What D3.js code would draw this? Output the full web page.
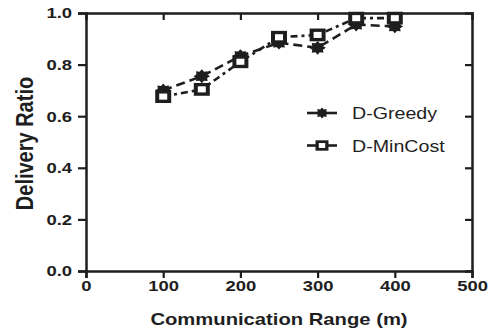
<!DOCTYPE html>
<html><head><meta charset="utf-8">
<script src="https://cdn.jsdelivr.net/npm/d3@7"></script>
<style>body{margin:0;background:#fff}</style>
</head><body>
<svg id="c" width="493" height="336"></svg>
<script>
const ranges = [100,150,200,250,300,350,400];
const greedy = [0.70,0.755,0.833,0.885,0.865,0.955,0.948];
const minCost = [0.676,0.704,0.811,0.906,0.915,0.98,0.98];
const xTicks = [0,100,200,300,400,500];
const yTicks = [0.0,0.2,0.4,0.6,0.8,1.0];
const seriesNames = ["D-Greedy","D-MinCost"];

const SX = 1.19; // horizontal stretch of the reference glyphs
const svg = d3.select("#c");
const m = {l:86, r:472, t:13, b:271};
const x = d3.scaleLinear().domain([0,500]).range([m.l,m.r]);
const y = d3.scaleLinear().domain([0,1]).range([m.b,m.t]);
const font = "'Liberation Sans', Arial, sans-serif";
const ink = "#1e1e1e";

function styleAxis(g){
  g.select(".domain").attr("stroke",ink).attr("stroke-width",2.5);
  g.selectAll(".tick line").attr("stroke",ink).attr("stroke-width",2.2);
  g.selectAll(".tick text").attr("font-family",font).attr("font-weight","bold").attr("font-size",15.5).attr("fill",ink)
    .each(function(){
      const t = d3.select(this);
      const xv = +t.attr("x") || 0;
      t.attr("x",0).attr("transform",`translate(${xv},0) scale(${SX},1)`);
    });
}
// bottom
svg.append("g").attr("transform",`translate(0,${m.b})`)
  .call(d3.axisBottom(x).tickValues(xTicks).tickFormat(d3.format("d")).tickSizeOuter(0).tickSize(7).tickPadding(2))
  .call(styleAxis);
// left
svg.append("g").attr("transform",`translate(${m.l},0)`)
  .call(d3.axisLeft(y).tickValues(yTicks).tickFormat(d3.format(".1f")).tickSizeOuter(0).tickSize(8).tickPadding(6))
  .call(styleAxis);
// top (inner ticks)
svg.append("g").attr("transform",`translate(0,${m.t})`)
  .call(d3.axisBottom(x).tickValues(xTicks.slice(1,-1)).tickFormat("").tickSizeOuter(0).tickSize(7))
  .call(styleAxis);
// right (inner ticks)
svg.append("g").attr("transform",`translate(${m.r},0)`)
  .call(d3.axisLeft(y).tickValues(yTicks.slice(1,-1)).tickFormat("").tickSizeOuter(0).tickSize(7))
  .call(styleAxis);

// titles
svg.append("text").attr("transform",`translate(${(m.l+m.r)/2},325) scale(${SX},1)`).attr("text-anchor","middle")
  .attr("font-family",font).attr("font-weight","bold").attr("font-size",17).attr("fill",ink)
  .text("Communication Range (m)");
svg.append("text").attr("transform",`translate(32.5,143.5) scale(${SX},1) rotate(-90)`).attr("text-anchor","middle")
  .attr("font-family",font).attr("font-weight","bold").attr("font-size",20).attr("fill",ink)
  .text("Delivery Ratio");

// star path
function starPath(r1,r2,n){
  const pts=[];
  for(let i=0;i<2*n;i++){const a=Math.PI*i/n - Math.PI/2; const r=i%2?r2:r1; pts.push([r*Math.cos(a),r*Math.sin(a)]);}
  return "M"+pts.map(p=>p.map(v=>v.toFixed(2)).join(",")).join("L")+"Z";
}
const series = [
  {name:seriesNames[0], vals:greedy, dash:"9,5", marker:"star"},
  {name:seriesNames[1], vals:minCost, dash:"7,4,3,4", marker:"square"}
];
const line = d3.line().x(d=>x(d[0])).y(d=>y(d[1]));
function drawMarker(g,type,cx,cy,k){
  const mg = g.append("g").attr("transform",`translate(${cx},${cy}) scale(${SX*k},${k})`);
  if(type==="star"){
    mg.append("path").attr("d",starPath(6.6,4.6,8)).attr("fill",ink);
  } else {
    mg.append("rect").attr("x",-4.8).attr("y",-4.5).attr("width",9.6).attr("height",9)
      .attr("fill","#fff").attr("stroke",ink).attr("stroke-width",3.2);
  }
}
series.forEach(s=>{
  const pts = ranges.map((r,i)=>[r,s.vals[i]]);
  svg.append("path").attr("d",line(pts)).attr("fill","none").attr("stroke",ink)
    .attr("stroke-width",2.6).attr("stroke-dasharray",s.dash);
});
series.forEach(s=>{
  const g = svg.append("g");
  ranges.forEach((r,i)=>drawMarker(g,s.marker,x(r),y(s.vals[i]),1.05));
});
// legend
series.forEach((s,i)=>{
  const ly = 113 + i*32.5;
  svg.append("line").attr("x1",307).attr("x2",337).attr("y1",ly).attr("y2",ly)
    .attr("stroke",ink).attr("stroke-width",2.6);
  drawMarker(svg,s.marker,322,ly,0.85);
  svg.append("text").attr("transform",`translate(352,${ly+6}) scale(${SX},1)`)
    .attr("font-family",font).attr("font-size",16.5).attr("fill",ink).text(s.name);
});
</script>
</body></html>
